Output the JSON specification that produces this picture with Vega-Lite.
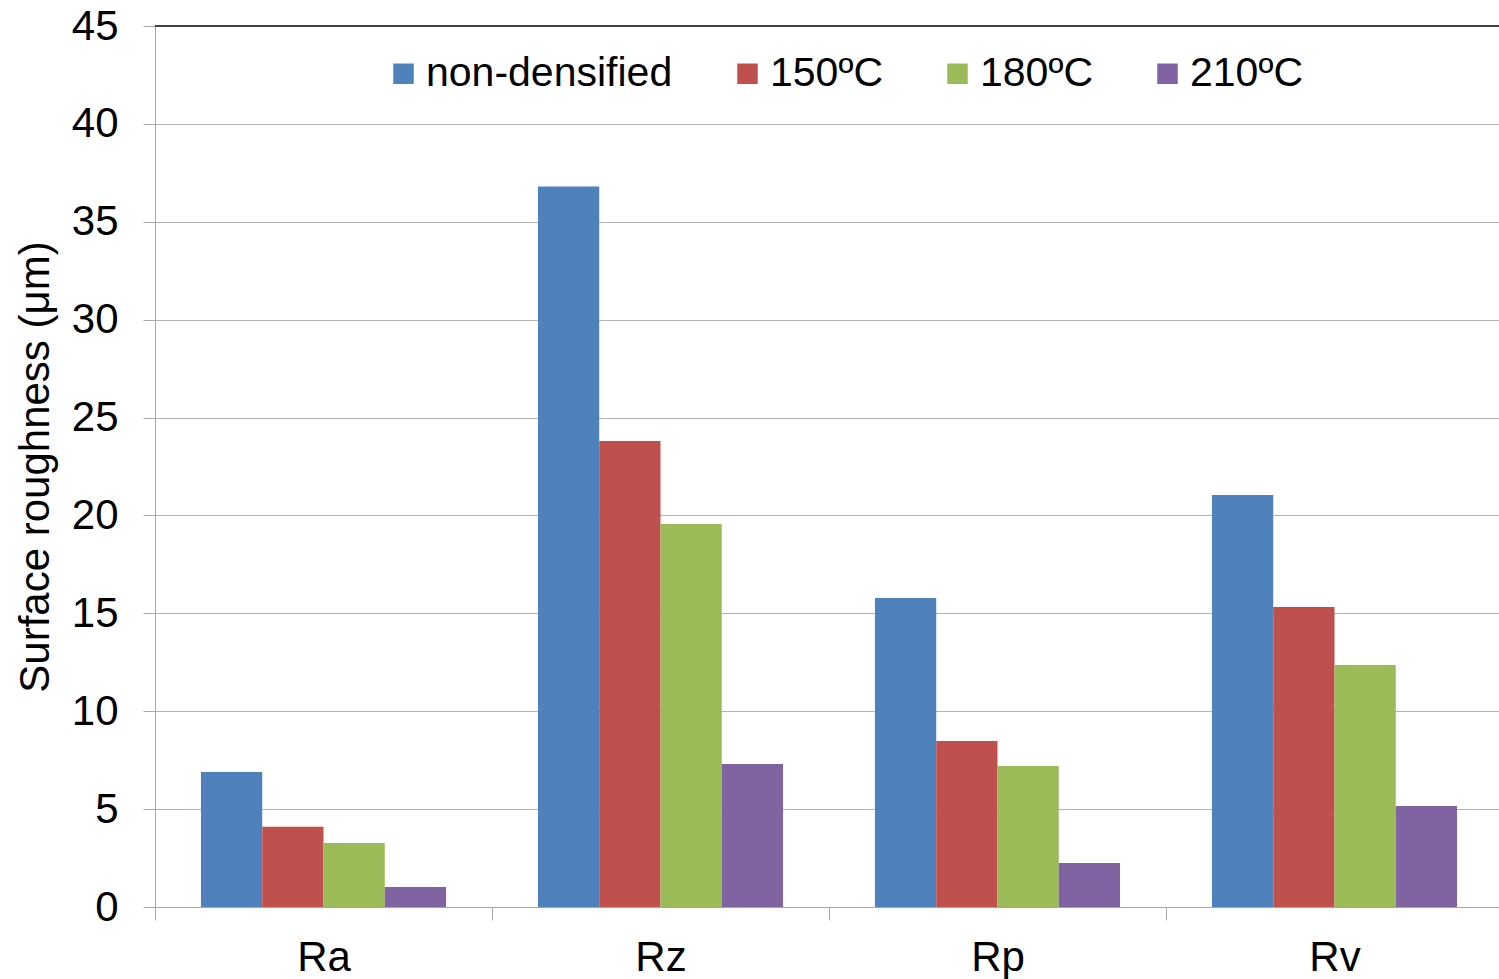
{
  "$schema": "https://vega.github.io/schema/vega-lite/v6.json",
  "width": 1348,
  "height": 881,
  "autosize": {"type": "none"},
  "padding": {"left": 155, "top": 26, "right": 0, "bottom": 72},
  "background": "white",
  "config": {
    "view": {"stroke": null},
    "font": "Liberation Sans",
    "axis": {"labelFont": "Liberation Sans", "titleFont": "Liberation Sans", "labelColor": "#000000", "titleColor": "#000000"},
    "legend": {"labelFont": "Liberation Sans"}
  },
  "data": {
    "values": [
      {"param": "Ra", "series": "non-densified", "value": 6.9},
      {"param": "Ra", "series": "150ºC", "value": 4.1},
      {"param": "Ra", "series": "180ºC", "value": 3.27},
      {"param": "Ra", "series": "210ºC", "value": 1.02},
      {"param": "Rz", "series": "non-densified", "value": 36.8},
      {"param": "Rz", "series": "150ºC", "value": 23.8},
      {"param": "Rz", "series": "180ºC", "value": 19.56},
      {"param": "Rz", "series": "210ºC", "value": 7.3},
      {"param": "Rp", "series": "non-densified", "value": 15.78},
      {"param": "Rp", "series": "150ºC", "value": 8.48},
      {"param": "Rp", "series": "180ºC", "value": 7.2},
      {"param": "Rp", "series": "210ºC", "value": 2.25},
      {"param": "Rv", "series": "non-densified", "value": 21.04},
      {"param": "Rv", "series": "150ºC", "value": 15.32},
      {"param": "Rv", "series": "180ºC", "value": 12.36},
      {"param": "Rv", "series": "210ºC", "value": 5.16}
    ]
  },
  "layer": [
    {
      "mark": {"type": "bar"},
      "encoding": {
        "x": {
          "field": "param",
          "type": "nominal",
          "sort": ["Ra", "Rz", "Rp", "Rv"],
          "scale": {"paddingInner": 0, "paddingOuter": 0},
          "axis": {
            "title": null,
            "labelAngle": 0,
            "labelFontSize": 42,
            "labelPadding": 17,
            "tickBand": "extent",
            "tickSize": 13,
            "tickColor": "#a6a6a6",
            "domainColor": "#a6a6a6",
            "grid": false
          }
        },
        "xOffset": {
          "field": "series",
          "type": "nominal",
          "sort": ["non-densified", "150ºC", "180ºC", "210ºC"],
          "scale": {"paddingInner": 0, "paddingOuter": 0.75}
        },
        "y": {
          "field": "value",
          "type": "quantitative",
          "scale": {"domain": [0, 45], "nice": false},
          "axis": {
            "title": "Surface roughness (μm)",
            "titleFontSize": 42,
            "titleFontWeight": "normal",
            "titlePadding": 14,
            "values": [0, 5, 10, 15, 20, 25, 30, 35, 40, 45],
            "labelFontSize": 42,
            "labelPadding": 25,
            "tickSize": 12,
            "tickColor": "#a6a6a6",
            "domainColor": "#a6a6a6",
            "gridColor": "#b3b3b3",
            "grid": true
          }
        },
        "color": {
          "field": "series",
          "type": "nominal",
          "sort": ["non-densified", "150ºC", "180ºC", "210ºC"],
          "scale": {"domain": ["non-densified", "150ºC", "180ºC", "210ºC"], "range": ["#4F81BD", "#C0504D", "#9BBB59", "#8064A2"]},
          "legend": {
            "title": null,
            "orient": "none",
            "direction": "horizontal",
            "columns": 4,
            "legendX": 228,
            "legendY": 27,
            "symbolType": "square",
            "symbolSize": 420,
            "symbolStrokeWidth": 0,
            "labelFontSize": 41,
            "labelLimit": 500,
            "labelOffset": 2,
            "columnPadding": 54,
            "labelColor": "#000000"
          }
        }
      }
    },
    {
      "mark": {"type": "rule", "color": "#404040", "strokeWidth": 1.5},
      "encoding": {"y": {"datum": 45}}
    }
  ]
}
